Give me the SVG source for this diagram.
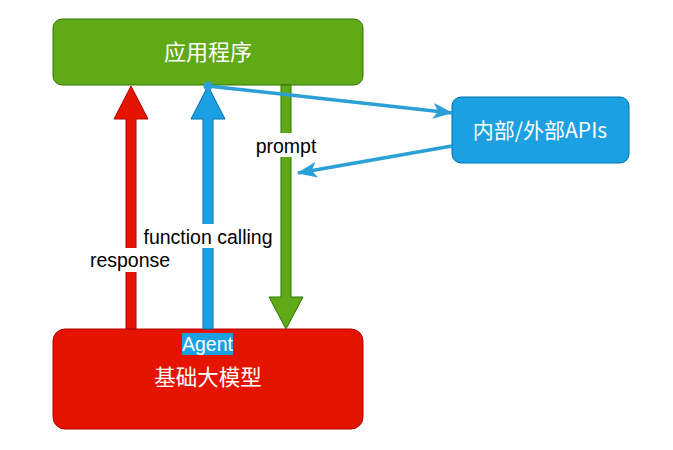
<svg xmlns="http://www.w3.org/2000/svg" width="673" height="450" viewBox="0 0 673 450">
<style>
.t{font-family:"Liberation Sans","Noto Sans CJK SC",Arial,sans-serif;text-anchor:middle;}
.lbl{font-size:19.5px;fill:#000;}
.cjk{font-family:"Noto Sans CJK SC","Liberation Sans",sans-serif;text-anchor:middle;fill:#fff;}
.conn{stroke:#2a9fd8;stroke-width:3.5;fill:none;}
</style>
<defs>
<marker id="ah" viewBox="0 0 20 16" refX="19" refY="8" markerWidth="20" markerHeight="16" markerUnits="userSpaceOnUse" orient="auto">
<path d="M0,0 L20,8 L0,16 L5,8 Z" fill="#2a9fd8"/>
</marker>
</defs>
<rect width="673" height="450" fill="#fff"/>

<g id="app">
<rect x="53" y="19" width="310" height="66" rx="9" fill="#60a917" stroke="#2d7600" stroke-width="1"/>
<text class="cjk" x="208" y="60" font-size="22">应用程序</text>
</g>

<g id="model">
<rect x="53" y="329" width="310" height="100" rx="12" fill="#e51400" stroke="#b20000" stroke-width="1"/>
<text class="cjk" x="208" y="385" font-size="21.5">基础大模型</text>
</g>

<g id="apis">
<rect x="452" y="97" width="177" height="66" rx="9" fill="#1ba1e2" stroke="#006eaf" stroke-width="1"/>
<text class="cjk" x="540" y="138" font-size="21">内部/外部APIs</text>
</g>

<g id="connectors">
<g id="response-arrow">
<path d="M126,329 L126,119 L114,119 L131,86 L148,119 L136,119 L136,329 Z" fill="#e51400" stroke="#b20000" stroke-width="1"/>
<rect x="88" y="248" width="86" height="24" fill="#fff"/>
<text class="t lbl" x="130" y="267">response</text>
</g>
<g id="function-arrow">
<path d="M203,329 L203,119 L191,119 L208,86 L225,119 L213,119 L213,329 Z" fill="#1ba1e2" stroke="#006eaf" stroke-width="1"/>
<rect x="141" y="224" width="134" height="24" fill="#fff"/>
<text class="t lbl" x="208" y="244">function calling</text>
</g>
<g id="prompt-arrow">
<path d="M281,85 L281,297 L269,297 L286,329 L303,297 L291,297 L291,85 Z" fill="#60a917" stroke="#2d7600" stroke-width="1"/>
<rect x="252" y="133" width="68" height="24" fill="#fff"/>
<text class="t lbl" x="286" y="153">prompt</text>
</g>
<circle cx="208" cy="86" r="4.5" fill="#2a9fd8"/>
<line class="conn" x1="208" y1="86" x2="452" y2="113" marker-end="url(#ah)"/>
<line class="conn" x1="452" y1="146" x2="298" y2="173" marker-end="url(#ah)"/>
<g id="agent-label">
<rect x="182" y="333" width="51" height="22" fill="#1ba1e2"/>
<text class="t" x="207.5" y="351" font-size="19.5" fill="#fff">Agent</text>
</g>
</g>
</svg>
